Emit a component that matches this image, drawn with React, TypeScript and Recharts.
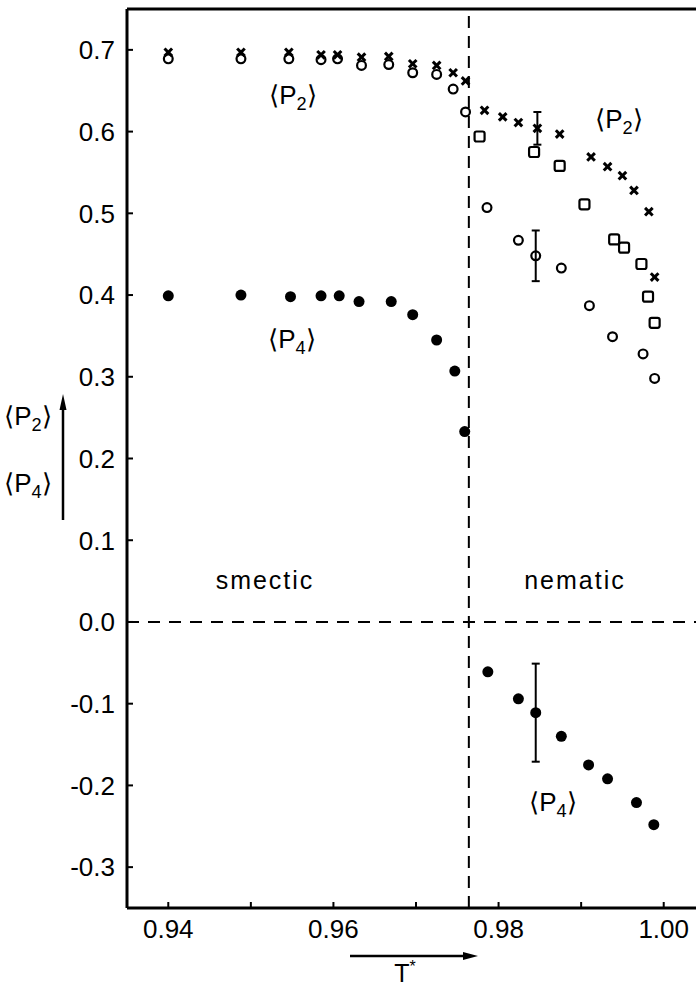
import React from "react"
import {
  ScatterChart,
  Scatter,
  XAxis,
  YAxis,
  ReferenceLine,
  ErrorBar,
} from "recharts"

const FONT = "'Liberation Sans Narrow', 'Liberation Sans', Arimo, sans-serif"

// reduced temperature T*
const xTicks = [0.94, 0.95, 0.96, 0.97, 0.98, 0.99, 1.0]
const xTickLabels = ["0.94", "", "0.96", "", "0.98", "", "1.00"]
const yTicks = [-0.3, -0.2, -0.1, 0.0, 0.1, 0.2, 0.3, 0.4, 0.5, 0.6, 0.7]

// smectic / nematic boundary
const tTransition = 0.9764

// <P2>, crosses
const tCross = [
  0.94, 0.9488, 0.9546, 0.9585, 0.9605, 0.9634, 0.9667, 0.9696, 0.9725, 0.9745, 0.976,
  0.9783, 0.9805, 0.9824, 0.9847, 0.9874, 0.9912, 0.9932, 0.995, 0.9964, 0.9982, 0.9989,
]
const p2Cross = [
  0.697, 0.697, 0.697, 0.694, 0.694, 0.691, 0.692, 0.683, 0.681, 0.672, 0.662,
  0.626, 0.618, 0.611, 0.604, 0.597, 0.569, 0.557, 0.546, 0.528, 0.502, 0.422,
]

// <P2>, open circles
const tCircle = [
  0.94, 0.9488, 0.9546, 0.9585, 0.9605, 0.9634, 0.9667, 0.9696, 0.9725, 0.9745,
  0.976, 0.9786, 0.9824, 0.9845, 0.9876, 0.991, 0.9938, 0.9975, 0.9989,
]
const p2Circle = [
  0.689, 0.689, 0.689, 0.688, 0.689, 0.681, 0.682, 0.672, 0.67, 0.652,
  0.624, 0.507, 0.467, 0.448, 0.433, 0.387, 0.349, 0.328, 0.298,
]

// <P2>, squares
const tSquare = [0.9777, 0.9843, 0.9874, 0.9904, 0.994, 0.9952, 0.9973, 0.9981, 0.9989]
const p2Square = [0.594, 0.575, 0.558, 0.511, 0.468, 0.458, 0.438, 0.398, 0.366]

// <P4>, filled circles
const tDot = [
  0.94, 0.9488, 0.9548, 0.9585, 0.9607, 0.9631, 0.967, 0.9696, 0.9725, 0.9747, 0.9759,
  0.9787, 0.9824, 0.9845, 0.9876, 0.9909, 0.9932, 0.9967, 0.9988,
]
const p4Dot = [
  0.399, 0.4, 0.398, 0.399, 0.399, 0.392, 0.392, 0.376, 0.345, 0.307, 0.233,
  -0.061, -0.094, -0.111, -0.14, -0.175, -0.192, -0.221, -0.248,
]

// typical error bars
const tErr = [0.9847, 0.9845, 0.9845]
const vErr = [0.604, 0.448, -0.111]
const errSize = [0.02, 0.031, 0.06]

const zip = (ts: number[], vs: number[]) => ts.map((t, i) => ({ t, v: vs[i] }))

const crossData = zip(tCross, p2Cross)
const circleData = zip(tCircle, p2Circle)
const squareData = zip(tSquare, p2Square)
const dotData = zip(tDot, p4Dot)
const errData = tErr.map((t, i) => ({ t, v: vErr[i], err: errSize[i] }))

const CrossShape = (props: any) => {
  const { cx, cy } = props
  const s = 3.8
  return (
    <g stroke="#000" strokeWidth={3}>
      <line x1={cx - s} y1={cy - s} x2={cx + s} y2={cy + s} />
      <line x1={cx - s} y1={cy + s} x2={cx + s} y2={cy - s} />
    </g>
  )
}

const CircleShape = (props: any) => (
  <circle cx={props.cx} cy={props.cy} r={4.4} fill="none" stroke="#000" strokeWidth={2.2} />
)

const SquareShape = (props: any) => (
  <rect x={props.cx - 5} y={props.cy - 5} width={10} height={10} rx={2}
    fill="none" stroke="#000" strokeWidth={2.2} />
)

const DotShape = (props: any) => (
  <circle cx={props.cx} cy={props.cy} r={5.5} fill="#000" />
)

const NoShape = () => <g />

const YTick = (props: any) => {
  const { x, y, payload } = props
  return (
    <g>
      <line x1={x} x2={x + 6} y1={y} y2={y} stroke="#000" strokeWidth={2} />
      <text x={x - 12} y={y} dy="0.36em" textAnchor="end" fontSize={26} fontFamily={FONT} fill="#000">
        {payload.value.toFixed(1)}
      </text>
    </g>
  )
}

const XTick = (props: any) => {
  const { x, y, payload, index } = props
  return (
    <g>
      <line x1={x} x2={x} y1={y} y2={y - 6} stroke="#000" strokeWidth={2} />
      <text x={x} y={y + 30} textAnchor="middle" fontSize={26} fontFamily={FONT} fill="#000">
        {xTickLabels[index] ?? String(payload.value)}
      </text>
    </g>
  )
}

const PLabel = ({ x, y, sub, size = 26 }: { x: number; y: number; sub: string; size?: number }) => (
  <text x={x} y={y} textAnchor="middle" fontSize={size} fontFamily={FONT} fill="#000">
    {"\u27E8P"}
    <tspan fontSize={size * 0.7} dy={6}>{sub}</tspan>
    <tspan dy={-6}>{"\u27E9"}</tspan>
  </text>
)

export default function App() {
  return (
    <div style={{ position: "fixed", left: 0, top: 0, width: 696, height: 987, overflow: "hidden", background: "#fff" }}>
      <ScatterChart width={720} height={987} margin={{ top: 9, right: 15, bottom: 39, left: 67 }}>
        <XAxis
          type="number"
          dataKey="t"
          domain={[0.935, 1.005]}
          ticks={xTicks}
          interval={0}
          height={40}
          tickSize={0}
          tickMargin={0}
          tickLine={false}
          axisLine={{ stroke: "#000", strokeWidth: 3 }}
          tick={<XTick />}
          allowDataOverflow
        />
        <YAxis
          type="number"
          dataKey="v"
          domain={[-0.35, 0.75]}
          ticks={yTicks}
          interval={0}
          width={60}
          tickSize={0}
          tickMargin={0}
          tickLine={false}
          axisLine={{ stroke: "#000", strokeWidth: 3 }}
          tick={<YTick />}
          allowDataOverflow
        />
        <ReferenceLine y={0.75} stroke="#000" strokeWidth={3} />
        <ReferenceLine y={0} stroke="#000" strokeWidth={2} strokeDasharray="12 9" />
        <ReferenceLine x={tTransition} stroke="#000" strokeWidth={2} strokeDasharray="12 8" />
        <Scatter data={errData} shape={<NoShape />} isAnimationActive={false}>
          <ErrorBar dataKey="err" direction="y" width={4} stroke="#000" strokeWidth={2} />
        </Scatter>
        <Scatter data={circleData} shape={<CircleShape />} isAnimationActive={false} />
        <Scatter data={squareData} shape={<SquareShape />} isAnimationActive={false} />
        <Scatter data={crossData} shape={<CrossShape />} isAnimationActive={false} />
        <Scatter data={dotData} shape={<DotShape />} isAnimationActive={false} />
      </ScatterChart>
      <svg width={696} height={987} style={{ position: "absolute", left: 0, top: 0, pointerEvents: "none" }}>
        <PLabel x={293} y={104} sub="2" />
        <PLabel x={619} y={128} sub="2" />
        <PLabel x={292} y={348} sub="4" />
        <PLabel x={553} y={811} sub="4" />
        <text x={265} y={589} textAnchor="middle" fontSize={25} fontFamily={FONT} letterSpacing={2}>smectic</text>
        <text x={575} y={589} textAnchor="middle" fontSize={25} fontFamily={FONT} letterSpacing={2}>nematic</text>
        <PLabel x={28} y={425} sub="2" />
        <PLabel x={28} y={492} sub="4" />
        <line x1={63} y1={520} x2={63} y2={405} stroke="#000" strokeWidth={2.5} />
        <polygon points="63,394 59.5,410 66.5,410" fill="#000" />
        <line x1={350} y1={956} x2={466} y2={956} stroke="#000" strokeWidth={2.5} />
        <polygon points="478,956 463,952 463,960" fill="#000" />
        <text x={405} y={982} textAnchor="middle" fontSize={25} fontFamily={FONT}>
          T<tspan fontSize={16} dy={-10}>*</tspan>
        </text>
      </svg>
    </div>
  )
}
